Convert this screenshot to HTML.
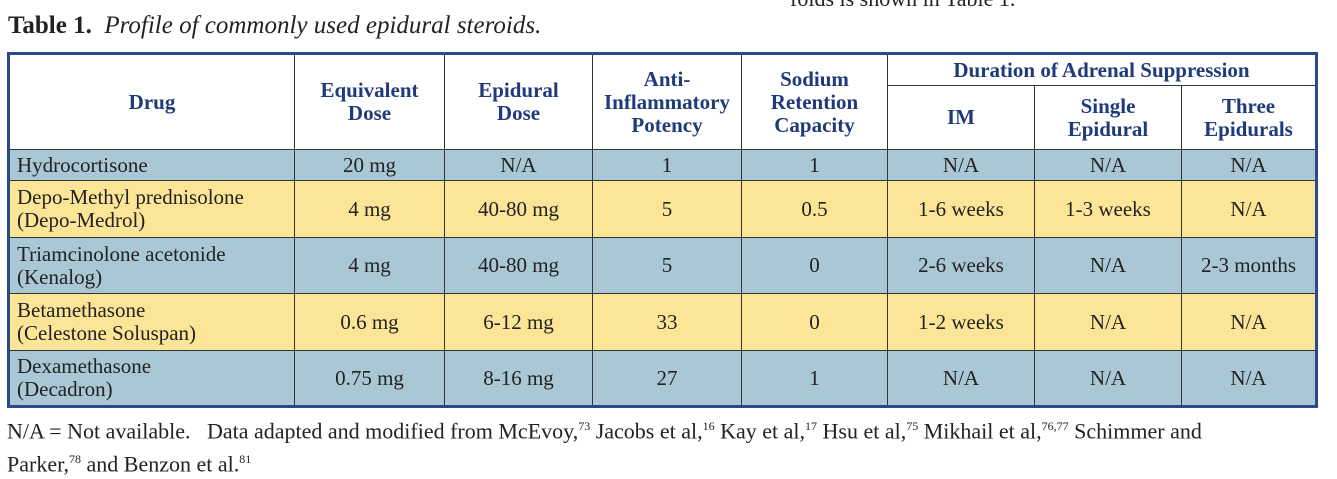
<!DOCTYPE html>
<html><head><meta charset="utf-8"><style>
body{margin:0;width:1337px;height:450px;overflow:hidden;background:#fff;font-family:"Liberation Serif",serif;color:#222;position:relative}
.t{position:absolute;left:7px;top:52px;border-collapse:collapse;table-layout:fixed;border:3px solid #2b4a8c}
.t td,.t th{border:1.5px solid #333;padding:0 4px;font-size:21px;line-height:23px;text-align:center;font-weight:normal}
.t th{color:#1f3a7a;font-weight:bold;background:#fff}
.b td{background:#aac7d6}.y td{background:#fde597}
.t td.l{text-align:left;padding-left:7px}
.ab{position:absolute;white-space:nowrap}
</style></head><body>
<div class="ab" style="left:790px;top:-14px;font-size:22px">folds is shown in Table 1.</div>
<div class="ab" style="left:8px;top:12px;font-size:25px"><b>Table 1.</b>&nbsp; <i>Profile of commonly used epidural steroids.</i></div>
<table class="t">
<colgroup><col style="width:286px"><col style="width:150px"><col style="width:148px"><col style="width:149px"><col style="width:146px"><col style="width:147px"><col style="width:147px"><col style="width:135px"></colgroup>
<tr style="height:32px"><th rowspan="2">Drug</th><th rowspan="2">Equivalent<br>Dose</th><th rowspan="2">Epidural<br>Dose</th><th rowspan="2">Anti-<br>Inflammatory<br>Potency</th><th rowspan="2">Sodium<br>Retention<br>Capacity</th><th colspan="3">Duration of Adrenal Suppression</th></tr>
<tr style="height:64px"><th>IM</th><th>Single<br>Epidural</th><th>Three<br>Epidurals</th></tr>
<tr class="b" style="height:31px"><td class="l">Hydrocortisone</td><td>20 mg</td><td>N/A</td><td>1</td><td>1</td><td>N/A</td><td>N/A</td><td>N/A</td></tr>
<tr class="y" style="height:57px"><td class="l">Depo-Methyl prednisolone<br>(Depo-Medrol)</td><td>4 mg</td><td>40-80 mg</td><td>5</td><td>0.5</td><td>1-6 weeks</td><td>1-3 weeks</td><td>N/A</td></tr>
<tr class="b" style="height:56px"><td class="l">Triamcinolone acetonide<br>(Kenalog)</td><td>4 mg</td><td>40-80 mg</td><td>5</td><td>0</td><td>2-6 weeks</td><td>N/A</td><td>2-3 months</td></tr>
<tr class="y" style="height:57px"><td class="l">Betamethasone<br>(Celestone Soluspan)</td><td>0.6 mg</td><td>6-12 mg</td><td>33</td><td>0</td><td>1-2 weeks</td><td>N/A</td><td>N/A</td></tr>
<tr class="b" style="height:56px"><td class="l">Dexamethasone<br>(Decadron)</td><td>0.75 mg</td><td>8-16 mg</td><td>27</td><td>1</td><td>N/A</td><td>N/A</td><td>N/A</td></tr>
</table>
<div class="ab" style="left:7px;top:412px;font-size:22px;line-height:28px">N/A = Not available.&nbsp;&nbsp; Data adapted and modified from McEvoy,<sup style="font-size:12px">73</sup> Jacobs et al,<sup style="font-size:12px">16</sup> Kay et al,<sup style="font-size:12px">17</sup> Hsu et al,<sup style="font-size:12px">75</sup> Mikhail et al,<sup style="font-size:12px">76,77</sup> Schimmer and<br>Parker,<sup style="font-size:12px">78</sup> and Benzon et al.<sup style="font-size:12px">81</sup></div>
</body></html>
